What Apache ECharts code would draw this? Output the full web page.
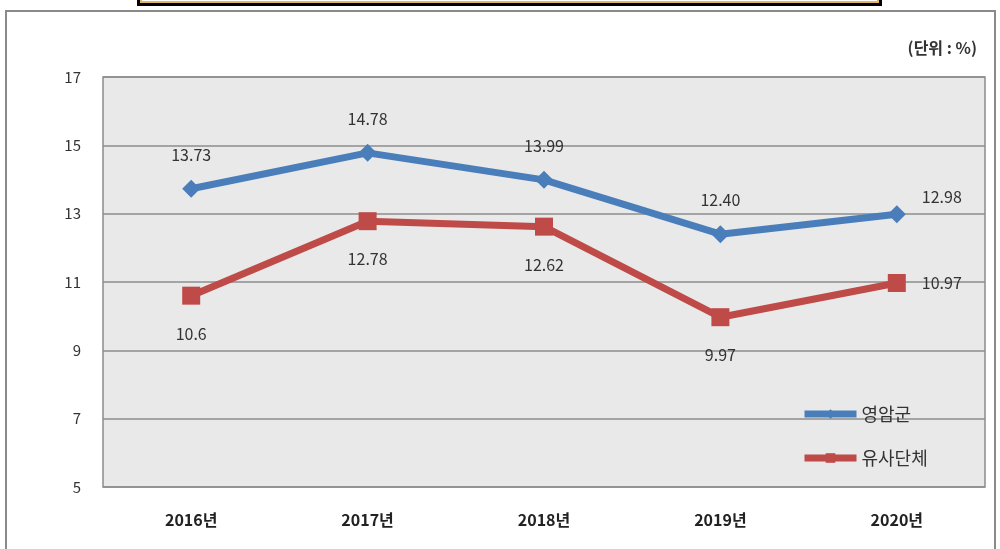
<!DOCTYPE html>
<html>
<head>
<meta charset="utf-8">
<script src="https://cdn.jsdelivr.net/npm/echarts@6/dist/echarts.min.js"></script>
<style>html,body{margin:0;padding:0;background:#fff;}#c{width:1000px;height:549px;}</style>
</head>
<body>
<div id="c"></div>
<script>
var categories = ['2016년', '2017년', '2018년', '2019년', '2020년'];
var yeongam = [13.73, 14.78, 13.99, 12.40, 12.98];
var similar = [10.6, 12.78, 12.62, 9.97, 10.97];
var yeongamLabels = ['13.73', '14.78', '13.99', '12.40', '12.98'];
var similarLabels = ['10.6', '12.78', '12.62', '9.97', '10.97'];
var yTicks = [5, 7, 9, 11, 13, 15, 17];

var chart = echarts.init(document.getElementById('c'));
var font = 'Noto Sans CJK KR, Noto Sans, sans-serif';

function mkData(vals, labels, lastOffset) {
  return vals.map(function (v, i) {
    var d = { value: v, label: { formatter: labels[i] } };
    if (i === vals.length - 1) {
      d.label.position = 'right';
      d.label.distance = 16;
      d.label.offset = lastOffset;
    }
    return d;
  });
}

chart.setOption({
  animation: false,
  textStyle: { fontFamily: font },
  graphic: [
    { type: 'rect', shape: { x: 6, y: 11, width: 989, height: 545 }, style: { fill: 'none', stroke: '#8a8a8a', lineWidth: 2 }, z: 0 },
    { type: 'rect', shape: { x: 137, y: -10, width: 745, height: 16 }, style: { fill: '#000' }, z: 10 },
    { type: 'rect', shape: { x: 141, y: -10, width: 737, height: 12 }, style: { fill: '#fff', stroke: '#e5b65c', lineWidth: 2 }, z: 11 },
    { type: 'text', right: 23, top: 40, style: { text: '(단위 : %)', font: 'bold 16px ' + font, fill: '#333' }, z: 10 }
  ],
  grid: { left: 103, right: 15, top: 77, bottom: 62, show: true, backgroundColor: '#e9e9e9', borderColor: '#8c8c8c', borderWidth: 1.5 },
  legend: {
    orient: 'vertical', left: 796, top: 400, itemGap: 26, itemWidth: 52, itemHeight: 12,
    textStyle: { fontSize: 18, color: '#333', fontFamily: font },
    data: [
      { name: '영암군', lineStyle: { width: 7, color: '#4a7ebb' } },
      { name: '유사단체', lineStyle: { width: 7, color: '#be4b48' } }
    ]
  },
  xAxis: {
    type: 'category', data: categories, boundaryGap: true,
    axisLine: { show: false }, axisTick: { show: false },
    axisLabel: { margin: 25, fontSize: 16, fontWeight: 'bold', color: '#222', fontFamily: font }
  },
  yAxis: {
    type: 'value', min: 5, max: 17, interval: 2,
    axisLine: { show: false }, axisTick: { show: false },
    axisLabel: { margin: 22, fontSize: 15, color: '#333', fontFamily: font,
      formatter: function (v) { return yTicks.indexOf(v) >= 0 ? String(v) : ''; } },
    splitLine: { lineStyle: { color: '#8c8c8c', width: 1.5 } }
  },
  series: [
    {
      name: '영암군', type: 'line', data: mkData(yeongam, yeongamLabels, [0, -17]),
      symbol: 'diamond', symbolSize: 18,
      lineStyle: { color: '#4a7ebb', width: 7 },
      itemStyle: { color: '#4a7ebb' },
      label: { show: true, position: 'top', distance: 17, fontSize: 16, color: '#333', fontFamily: font }
    },
    {
      name: '유사단체', type: 'line', data: mkData(similar, similarLabels, [0, 0]),
      symbol: 'rect', symbolSize: 18,
      lineStyle: { color: '#be4b48', width: 7 },
      itemStyle: { color: '#be4b48' },
      label: { show: true, position: 'bottom', distance: 21, fontSize: 16, color: '#333', fontFamily: font }
    }
  ]
});
</script>
</body>
</html>
